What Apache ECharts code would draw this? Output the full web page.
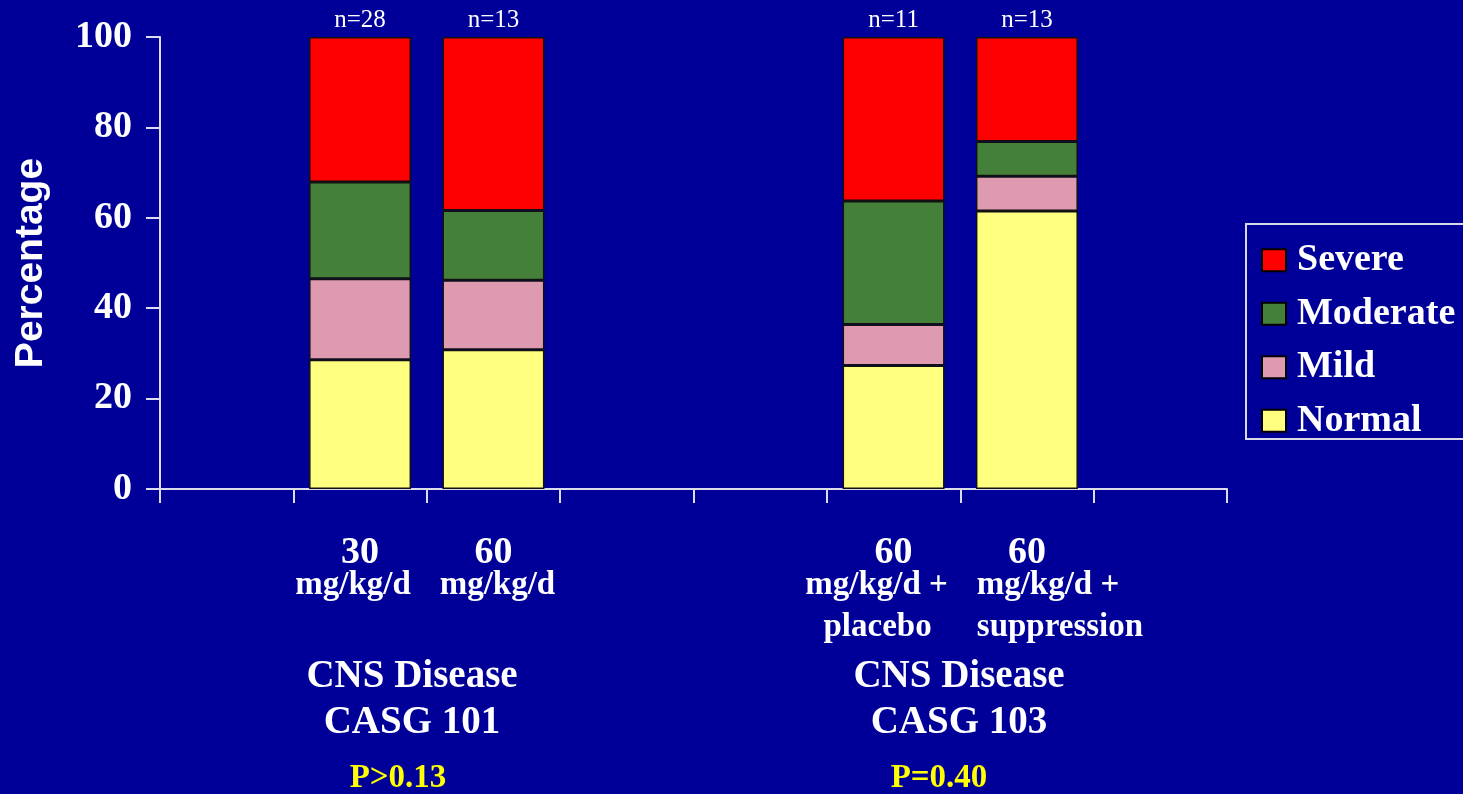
<!DOCTYPE html>
<html>
<head>
<meta charset="utf-8">
<script src="https://cdn.jsdelivr.net/npm/echarts@6/dist/echarts.min.js"></script>
<style>
html,body{margin:0;padding:0;background:#000099;}
#chart{width:1463px;height:794px;}
</style>
</head>
<body>
<div id="chart"></div>
<script>
// ---- data ----
var categories = [' ', '{a|30}\n{bl|mg/kg/d}', '{a|60}\n{br|mg/kg/d}', '  ', '   ',
  '{a|60}\n{b3|mg/kg/d +}\n{c3|placebo}', '{a|60}\n{b4|mg/kg/d +}\n{c4|suppression}', '    '];
var normalValues   = ['-', 28.6, 30.8, '-', '-', 27.3, 61.5, '-'];
var mildValues     = ['-', 17.9, 15.4, '-', '-', 9.1, 7.7, '-'];
var moderateValues = ['-', 21.4, 15.4, '-', '-', 27.3, 7.7, '-'];
var severeValues   = ['-', 32.1, 38.4, '-', '-', 36.3, 23.1, '-'];
var nLabels        = ['', 'n=28', 'n=13', '', '', 'n=11', 'n=13', ''];
var yTicks = [0, 20, 40, 60, 80, 100];
var groupTitles = [
  { lines: ['CNS Disease', 'CASG 101'], p: 'P>0.13' },
  { lines: ['CNS Disease', 'CASG 103'], p: 'P=0.40' }
];
var legendOrder = ['Severe', 'Moderate', 'Mild', 'Normal'];

var SERIF = '"Liberation Serif", "Times New Roman", serif';
var colors = { Normal: '#FFFF80', Mild: '#DE9AB1', Moderate: '#45803A', Severe: '#FF0000' };

function mk(name, data, withLabel) {
  var s = {
    name: name, type: 'bar', stack: 'total', data: data, barWidth: 102,
    itemStyle: { color: colors[name], borderColor: '#111', borderWidth: 1.5 },
    emphasis: { disabled: true }
  };
  if (withLabel) {
    s.label = {
      show: true, position: 'top', distance: 4,
      formatter: function (p) { return nLabels[p.dataIndex]; },
      color: '#ffffff', fontFamily: SERIF, fontSize: 25, fontWeight: 'normal'
    };
  }
  return s;
}
function rs(size, lh, pad) {
  return { fontSize: size, lineHeight: lh, fontFamily: SERIF, fontWeight: 'bold', color: '#ffffff', padding: pad || 0 };
}

var chart = echarts.init(document.getElementById('chart'));
var textBase = { fill: '#ffffff', fontFamily: SERIF, fontWeight: 'bold', align: 'center', verticalAlign: 'middle' };
var graphics = [
  { type: 'rect', shape: { x: 1246, y: 224, width: 270, height: 215 },
    style: { fill: 'none', stroke: '#d8d8e8', lineWidth: 2 } },
  { type: 'text', x: 412, y: 677, style: Object.assign({}, textBase, { text: groupTitles[0].lines[0], fontSize: 39 }) },
  { type: 'text', x: 412, y: 723, style: Object.assign({}, textBase, { text: groupTitles[0].lines[1], fontSize: 39 }) },
  { type: 'text', x: 398, y: 778, style: Object.assign({}, textBase, { text: groupTitles[0].p, fontSize: 33, fill: '#FFFF00' }) },
  { type: 'text', x: 959, y: 677, style: Object.assign({}, textBase, { text: groupTitles[1].lines[0], fontSize: 39 }) },
  { type: 'text', x: 959, y: 723, style: Object.assign({}, textBase, { text: groupTitles[1].lines[1], fontSize: 39 }) },
  { type: 'text', x: 939, y: 778, style: Object.assign({}, textBase, { text: groupTitles[1].p, fontSize: 33, fill: '#FFFF00' }) }
];

chart.setOption({
  backgroundColor: '#000099',
  animation: false,
  grid: { left: 160, right: 236, top: 37, bottom: 305, containLabel: false },
  legend: {
    data: legendOrder, orient: 'vertical', left: 1261, top: 241, icon: 'rect',
    itemWidth: 24, itemHeight: 22, itemGap: 15, padding: 0,
    itemStyle: { borderColor: '#000', borderWidth: 2 },
    textStyle: { color: '#ffffff', fontFamily: SERIF, fontWeight: 'bold', fontSize: 38, lineHeight: 38.5, padding: [0, 0, 0, 6] },
    selectedMode: false
  },
  xAxis: {
    type: 'category', data: categories, boundaryGap: true,
    axisLine: { show: true, lineStyle: { color: '#dcdcee', width: 2 } },
    axisTick: { show: true, interval: 0, length: 14, lineStyle: { color: '#dcdcee', width: 2 } },
    axisLabel: {
      interval: 0, margin: 48, verticalAlign: 'top', color: '#ffffff',
      fontFamily: SERIF, fontWeight: 'bold',
      rich: {
        a: rs(38, 32),
        bl: rs(33, 32, [0, 14, 0, 0]),
        br: rs(33, 32, [0, 0, 0, 8]),
        b3: rs(33, 32, [0, 34, 0, 0]),
        c3: rs(33, 52, [0, 32, 0, 0]),
        b4: rs(33, 32, [0, 0, 0, 42]),
        c4: rs(33, 52, [0, 0, 0, 66])
      }
    },
    splitLine: { show: false }
  },
  yAxis: {
    type: 'value', min: yTicks[0], max: yTicks[yTicks.length - 1], interval: yTicks[1] - yTicks[0],
    name: 'Percentage', nameLocation: 'middle', nameGap: 109, nameRotate: 90,
    nameTextStyle: { color: '#ffffff', fontFamily: '"Liberation Sans", Arial, sans-serif', fontWeight: 'bold', fontSize: 39 },
    axisLine: { show: true, lineStyle: { color: '#dcdcee', width: 2 } },
    axisTick: { show: true, length: 14, lineStyle: { color: '#dcdcee', width: 2 } },
    axisLabel: { margin: 28, color: '#ffffff', fontFamily: SERIF, fontWeight: 'bold', fontSize: 38 },
    splitLine: { show: false }
  },
  series: [
    mk('Normal', normalValues, false),
    mk('Mild', mildValues, false),
    mk('Moderate', moderateValues, false),
    mk('Severe', severeValues, true)
  ],
  graphic: graphics
});
</script>
</body>
</html>
